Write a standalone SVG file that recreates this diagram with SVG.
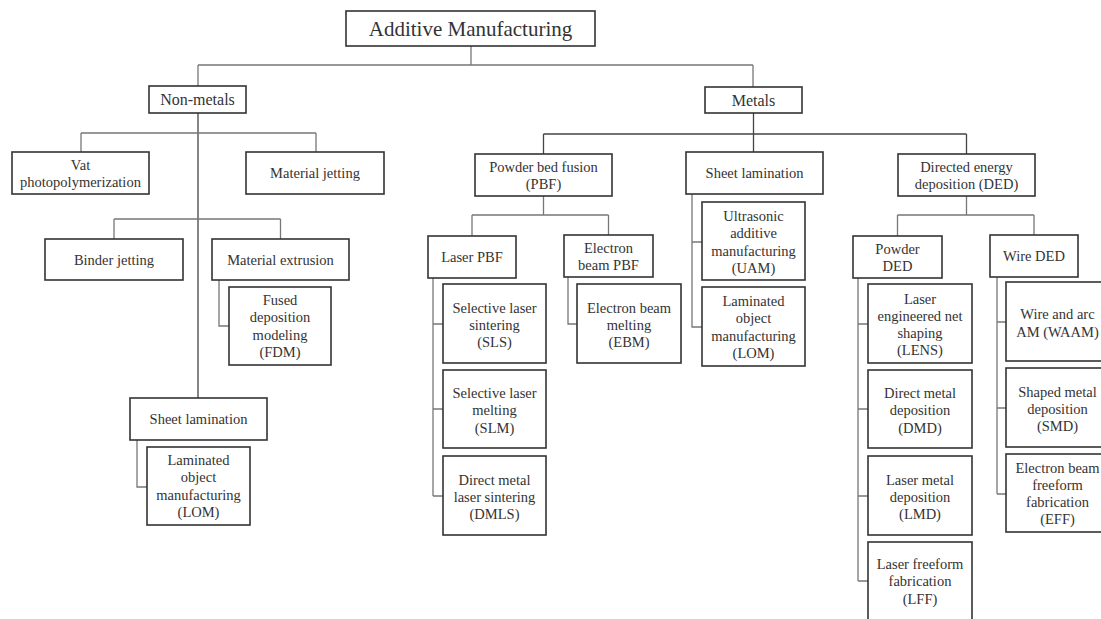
<svg xmlns="http://www.w3.org/2000/svg" width="1101" height="619" viewBox="0 0 1101 619">
<style>
.box{fill:#fff;stroke:#333;stroke-width:1.6}
text{font-family:'Liberation Serif','DejaVu Serif',serif;font-size:14.5px;fill:#333;text-anchor:middle}
.big{font-size:21px}
.mid{font-size:16px}
.c{fill:none;stroke:#777;stroke-width:1.3}
.cd{fill:none;stroke:#444;stroke-width:1.3}
</style>
<rect width="1101" height="619" fill="#fff"/>
<g id="connectors">
<path class="c" d="M471,46V65M198,65H753M198,65V86M753,65V87"/>
<path class="cd" d="M198,113V398"/>
<path class="c" d="M81,133H316M81,133V152M316,133V152"/>
<path class="c" d="M114,219H280.5M114,219V239M280.5,219V239"/>
<path class="c" d="M219,280V326H229"/>
<path class="c" d="M137,440V487H147"/>
<path class="cd" d="M753.5,113V152M543.5,134H966.5M543.5,134V154M966.5,134V154"/>
<path class="c" d="M543.5,196V215M472,215H608.5M472,215V236M608.5,215V235"/>
<path class="c" d="M433,278V496M433,324H443M433,409H443M433,496H443"/>
<path class="c" d="M568,277V324H577"/>
<path class="c" d="M692,194V327H702M692,242H702"/>
<path class="c" d="M966.5,196V215M897.5,215H1034M897.5,215V236M1034,215V235"/>
<path class="c" d="M858,278V581M858,324H868M858,409H868M858,496H868M858,581H868"/>
<path class="c" d="M997,277V494M997,322H1006M997,408H1006M997,494H1006"/>
</g>
<g font-family="Liberation Serif, DejaVu Serif, serif">
<g id="am"><rect class="box" x="346" y="11" width="249" height="35"/><text class="big" x="470.5" y="35.5">Additive Manufacturing</text></g>
<g id="nonmetals"><rect class="box" x="149" y="86" width="97" height="27"/><text class="mid" x="197.5" y="105">Non-metals</text></g>
<g id="metals"><rect class="box" x="705" y="87" width="97" height="26"/><text class="mid" x="753.5" y="105.5">Metals</text></g>
<g id="vat"><rect class="box" x="12" y="152" width="137" height="42"/><text x="80.5" y="169.5">Vat</text><text x="80.5" y="187">photopolymerization</text></g>
<g id="matjet"><rect class="box" x="246" y="152" width="138" height="42"/><text x="315" y="178">Material jetting</text></g>
<g id="binder"><rect class="box" x="45" y="239" width="138" height="41"/><text x="114" y="264.5">Binder jetting</text></g>
<g id="matext"><rect class="box" x="212" y="239" width="137" height="41"/><text x="280.5" y="264.5">Material extrusion</text></g>
<g id="fdm"><rect class="box" x="229" y="287" width="102" height="78"/><text x="280" y="305">Fused</text><text x="280" y="322.3">deposition</text><text x="280" y="339.6">modeling</text><text x="280" y="356.9">(FDM)</text></g>
<g id="sheetnm"><rect class="box" x="130" y="398" width="137" height="42"/><text x="198.5" y="424">Sheet lamination</text></g>
<g id="lomnm"><rect class="box" x="147" y="447" width="103" height="78"/><text x="198.5" y="465">Laminated</text><text x="198.5" y="482.3">object</text><text x="198.5" y="499.6">manufacturing</text><text x="198.5" y="516.9">(LOM)</text></g>
<g id="pbf"><rect class="box" x="475" y="154" width="137" height="42"/><text x="543.5" y="171.5">Powder bed fusion</text><text x="543.5" y="189">(PBF)</text></g>
<g id="sheetm"><rect class="box" x="686" y="152" width="137" height="42"/><text x="754.5" y="178">Sheet lamination</text></g>
<g id="ded"><rect class="box" x="898" y="154" width="137" height="42"/><text x="966.5" y="171.5">Directed energy</text><text x="966.5" y="189">deposition (DED)</text></g>
<g id="laserpbf"><rect class="box" x="428" y="236" width="88" height="42"/><text x="472" y="262">Laser PBF</text></g>
<g id="ebpbf"><rect class="box" x="564" y="235" width="89" height="42"/><text x="608.5" y="252.5">Electron</text><text x="608.5" y="270">beam PBF</text></g>
<g id="sls"><rect class="box" x="443" y="284" width="103" height="79"/><text x="494.5" y="312.5">Selective laser</text><text x="494.5" y="329.8">sintering</text><text x="494.5" y="347.1">(SLS)</text></g>
<g id="slm"><rect class="box" x="443" y="370" width="103" height="78"/><text x="494.5" y="398">Selective laser</text><text x="494.5" y="415.3">melting</text><text x="494.5" y="432.6">(SLM)</text></g>
<g id="dmls"><rect class="box" x="443" y="456" width="103" height="79"/><text x="494.5" y="484.5">Direct metal</text><text x="494.5" y="501.8">laser sintering</text><text x="494.5" y="519.1">(DMLS)</text></g>
<g id="ebm"><rect class="box" x="577" y="284" width="104" height="79"/><text x="629" y="312.5">Electron beam</text><text x="629" y="329.8">melting</text><text x="629" y="347.1">(EBM)</text></g>
<g id="uam"><rect class="box" x="702" y="202" width="103" height="78"/><text x="753.5" y="221">Ultrasonic</text><text x="753.5" y="238.3">additive</text><text x="753.5" y="255.6">manufacturing</text><text x="753.5" y="272.9">(UAM)</text></g>
<g id="lomm"><rect class="box" x="702" y="287" width="103" height="79"/><text x="753.5" y="306">Laminated</text><text x="753.5" y="323.3">object</text><text x="753.5" y="340.6">manufacturing</text><text x="753.5" y="357.9">(LOM)</text></g>
<g id="powderded"><rect class="box" x="853" y="236" width="89" height="42"/><text x="897.5" y="253.5">Powder</text><text x="897.5" y="271">DED</text></g>
<g id="wireded"><rect class="box" x="990" y="235" width="88" height="42"/><text x="1034" y="261">Wire DED</text></g>
<g id="lens"><rect class="box" x="868" y="284" width="104" height="79"/><text x="920" y="303.5">Laser</text><text x="920" y="320.8">engineered net</text><text x="920" y="338.1">shaping</text><text x="920" y="355.4">(LENS)</text></g>
<g id="dmd"><rect class="box" x="868" y="370" width="104" height="78"/><text x="920" y="398">Direct metal</text><text x="920" y="415.3">deposition</text><text x="920" y="432.6">(DMD)</text></g>
<g id="lmd"><rect class="box" x="868" y="456" width="104" height="79"/><text x="920" y="484.5">Laser metal</text><text x="920" y="501.8">deposition</text><text x="920" y="519.1">(LMD)</text></g>
<g id="lff"><rect class="box" x="868" y="542" width="104" height="84"/><text x="920" y="569">Laser freeform</text><text x="920" y="586.3">fabrication</text><text x="920" y="603.6">(LFF)</text></g>
<g id="waam"><rect class="box" x="1006" y="282" width="104" height="79"/><text x="1057.5" y="319">Wire and arc</text><text x="1057.5" y="336.5">AM (WAAM)</text></g>
<g id="smd"><rect class="box" x="1006" y="368" width="104" height="79"/><text x="1057.5" y="396.5">Shaped metal</text><text x="1057.5" y="413.8">deposition</text><text x="1057.5" y="431.1">(SMD)</text></g>
<g id="eff"><rect class="box" x="1006" y="454" width="104" height="78"/><text x="1057.5" y="472.5">Electron beam</text><text x="1057.5" y="489.8">freeform</text><text x="1057.5" y="507.1">fabrication</text><text x="1057.5" y="524.4">(EFF)</text></g>
</g>
</svg>
